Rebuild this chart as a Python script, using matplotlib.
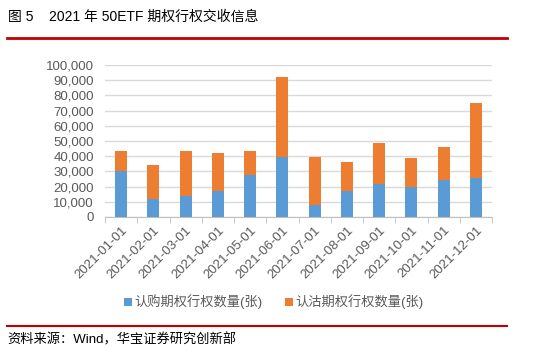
#!/usr/bin/python3

import numpy as np
import matplotlib
matplotlib.use("Agg")
import matplotlib.pyplot as plt
from matplotlib.ticker import FuncFormatter, FixedLocator

plt.rcParams['font.family'] = ['Liberation Sans', 'Noto Sans CJK SC', 'DejaVu Sans']

# data
months = ["2021-01-01", "2021-02-01", "2021-03-01", "2021-04-01",
          "2021-05-01", "2021-06-01", "2021-07-01", "2021-08-01",
          "2021-09-01", "2021-10-01", "2021-11-01", "2021-12-01"]
call_ex = [30100, 11900, 14000, 17100, 27700, 39600,
           7900, 17100, 22000, 19800, 24600, 25900]
total_ex = [43500, 34300, 43500, 42200, 43500, 92300,
            39600, 36300, 48800, 38900, 46100, 75200]
put_ex = [t - c for t, c in zip(total_ex, call_ex)]

call_label = "认购期权行权数量(张)"
put_label = "认沽期权行权数量(张)"
title = "图 5    2021 年 50ETF 期权行权交收信息"
source = "资料来源：Wind，华宝证券研究创新部"

BLUE = "#5B9BD5"
ORANGE = "#ED7D31"
RED = "#C00000"
GREY = "#595959"


def main():
    W, H = 556, 354
    fig = plt.figure(figsize=(W / 100, H / 100), dpi=100)

    # header / footer
    fig.text(8 / W, 1 - 17 / H, title, fontsize=10, va="center", ha="left",
             color="black")
    fig.add_artist(plt.Line2D([7 / W, 507 / W], [1 - 38 / H, 1 - 38 / H],
                              color=RED, lw=2))
    fig.add_artist(plt.Line2D([7 / W, 507 / W], [1 - 326 / H, 1 - 326 / H],
                              color=RED, lw=1.5))
    fig.text(7 / W, 1 - 340 / H, source, fontsize=9.5, va="center",
             ha="left", color="black")

    left, right, top, bottom = 105, 492, 65, 217
    ax = fig.add_axes([left / W, 1 - bottom / H, (right - left) / W,
                       (bottom - top) / H])

    x = np.arange(len(months))
    ax.bar(x, call_ex, width=0.37, color=BLUE, label=call_label, zorder=3)
    ax.bar(x, put_ex, width=0.37, bottom=call_ex, color=ORANGE,
           label=put_label, zorder=3)

    ax.set_xlim(-0.5, len(months) - 0.5)
    ax.set_ylim(0, 100000)
    ax.set_yticks(np.arange(0, 100001, 10000))
    ax.yaxis.set_major_formatter(FuncFormatter(lambda v, p: f"{int(v):,}"))
    ax.grid(axis="y", color="#D9D9D9", lw=1, zorder=0)

    ax.set_xticks(x)
    ax.set_xticklabels(months, rotation=45, ha="right",
                       rotation_mode="anchor")
    ax.xaxis.set_minor_locator(FixedLocator(np.arange(-0.5, len(months), 1)))
    ax.tick_params(axis="x", which="major", length=0, pad=5,
                   labelsize=9.5, labelcolor=GREY)
    ax.tick_params(axis="x", which="minor", length=4, color="#BFBFBF")
    ax.tick_params(axis="y", length=0, pad=8, labelsize=9.5,
                   labelcolor=GREY)

    for s in ["top", "right", "left"]:
        ax.spines[s].set_visible(False)
    ax.spines["bottom"].set_color("#BFBFBF")

    fig.legend(loc="center", bbox_to_anchor=(274 / W, 1 - 302 / H),
               ncol=2, frameon=False, fontsize=9.5, handlelength=0.6,
               handleheight=0.6, handletextpad=0.2, columnspacing=1.7,
               labelcolor=GREY)

    fig.savefig("out.png", dpi=100)


if __name__ == "__main__":
    main()
